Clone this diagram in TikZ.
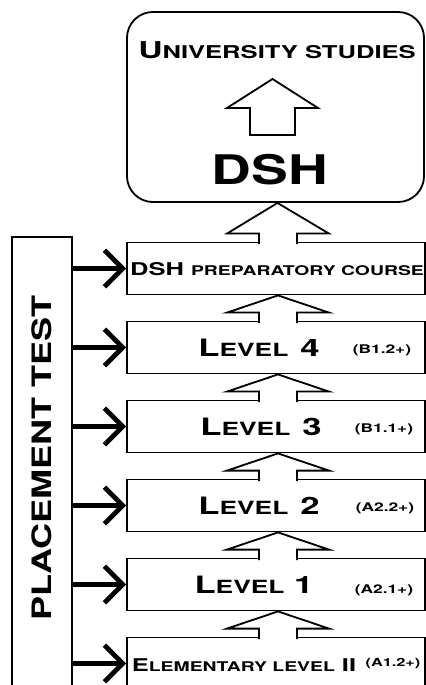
\documentclass[tikz,border=0pt]{standalone}
\usepackage{fontspec}
\setmainfont{TeX Gyre Heros}
\newfontfamily\copfont[FakeStretch=1.45]{TeX Gyre Heros}
\newfontfamily\widefont[FakeStretch=1.35]{TeX Gyre Heros}
\usetikzlibrary{arrows.meta, positioning, calc}

% lower letters of the caps-and-small-caps look
\makeatletter
\newcommand\minor[1]{{\fontsize{\strip@pt\dimexpr0.76\dimexpr\f@size pt\relax\relax}{1em}\selectfont\MakeUppercase{#1}}}
\makeatother

\tikzset{
  lvbox/.style={draw, line width=1.3pt, fill=white, inner sep=0pt,
    minimum width=7.45cm, minimum height=1.3cm},
  lvtxt/.style={inner sep=0pt, font=\copfont\bfseries\fontsize{17}{18}\selectfont},
  cefr/.style={inner sep=0pt, font=\copfont\bfseries\fontsize{8.5}{10}\selectfont},
  hollow/.style={draw, fill=white, line width=1.3pt, line join=miter},
  feed/.style={line width=3.4pt, -{Straight Barb[length=13pt, width=26pt]}},
}

% hollow upward arrow from box #2 (below) to box #1 (above)
\newcommand\hollowup[2]{%
  \path[hollow]
    ($(#2.north)+(-17,2.5)$) -- ($(#2.north)+(-17,-8)$)
    -- ($(#2.north)+(-49,-8)$) -- ($(#1.south)+(2,0)$)
    -- ($(#2.north)+(53,-8)$) -- ($(#2.north)+(21,-8)$)
    -- ($(#2.north)+(21,2.5)$);}

\begin{document}
\begin{tikzpicture}[x=0.025cm, y=-0.025cm]
  \useasboundingbox (0,0) rectangle (426,685);

  % goal
  \node[draw, line width=1.3pt, rounded corners=0.65cm, inner sep=0pt,
    minimum width=7.425cm, minimum height=4.75cm] (uni) at (275.5,107) {};
  \node[lvtxt, font=\copfont\bfseries\fontsize{16.5}{18}\selectfont] (unit) at (277,50) {U\minor{niversity studies}};
  \path[hollow] (250,135) -- (250,108) -- (227,108) -- (272.5,79)
    -- (318,108) -- (295,108) -- (295,135) -- cycle;
  \node[inner sep=0pt, font=\widefont\bfseries\fontsize{29}{32}\selectfont] (dsh) at (270,170) {DSH};

  % placement test
  \node[draw, line width=1.5pt, inner sep=0pt, minimum width=1.49cm,
    minimum height=11.6cm] (pt) at (42,469) {};
  \node[rotate=90, inner sep=0pt, font=\widefont\bfseries\fontsize{19}{20}\selectfont] (ptt) at (42,458) {PLACEMENT TEST};

  % course levels
  \node[lvbox] (prep) at (276,268.5) {};
  \node[lvbox] (lv4) at (276,347.5) {};
  \node[lvbox] (lv3) at (276,426.5) {};
  \node[lvbox] (lv2) at (276,505.5) {};
  \node[lvbox] (lv1) at (276,584.5) {};
  \node[lvbox] (elem) at (276,663.5) {};

  \node[lvtxt, font=\copfont\bfseries\fontsize{12.5}{13}\selectfont] (prept) at (277,269) {DSH \minor{preparatory course}};
  \node[lvtxt] (lv4t) at (259,348) {L\minor{evel}\enspace 4};
  \node[lvtxt] (lv3t) at (261,427) {L\minor{evel}\enspace 3};
  \node[lvtxt] (lv2t) at (259,506) {L\minor{evel}\enspace 2};
  \node[lvtxt] (lv1t) at (254,585) {L\minor{evel} 1};
  \node[cefr] (lv4c) at (382,350) {(B1.2+)};
  \node[cefr] (lv3c) at (384,429) {(B1.1+)};
  \node[cefr] (lv2c) at (385,508) {(A2.2+)};
  \node[cefr] (lv1c) at (384,590) {(A2.1+)};
  \node[lvtxt, font=\copfont\bfseries\fontsize{12.5}{13}\selectfont] (elemt) at (244,665) {E\minor{lementary level} II};
  \node[cefr, font=\copfont\bfseries\fontsize{8}{10}\selectfont] (elemc) at (393,664) {(A1.2+)};

  % steps up
  \hollowup{uni}{prep}
  \hollowup{prep}{lv4}
  \hollowup{lv4}{lv3}
  \hollowup{lv3}{lv2}
  \hollowup{lv2}{lv1}
  \hollowup{lv1}{elem}

  % entry points
  \foreach \b in {prep, lv4, lv3, lv2, lv1, elem}
    \draw[feed] (pt.east |- \b.west) -- (\b.west);
\end{tikzpicture}
\end{document}
